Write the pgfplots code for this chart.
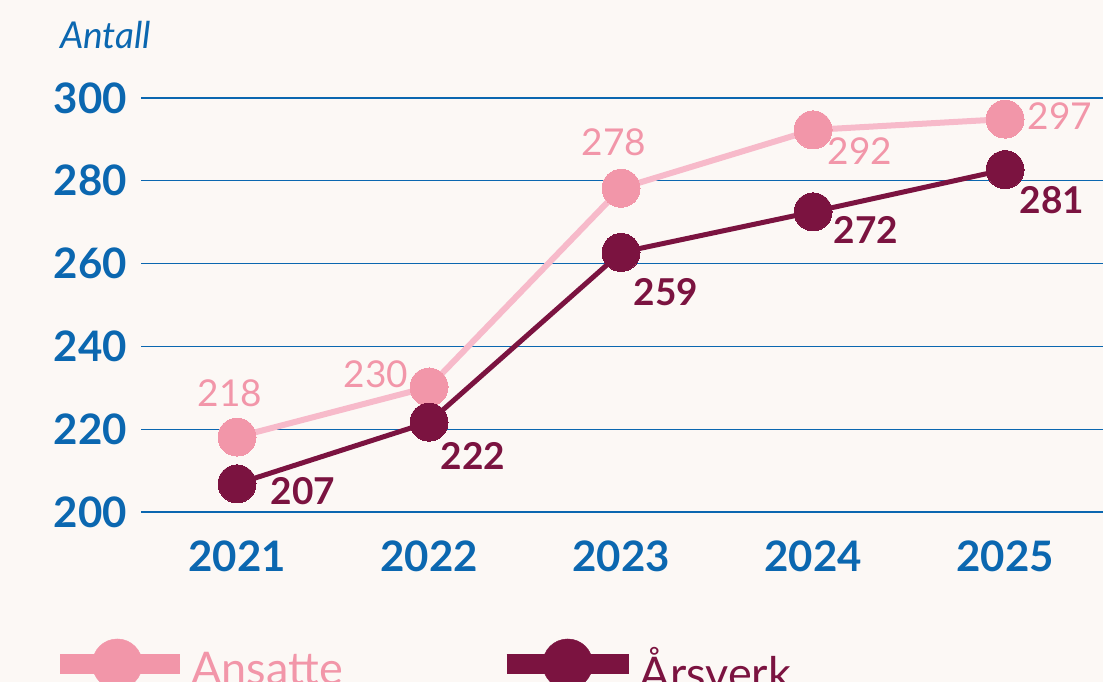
\documentclass[border=0pt]{standalone}
\usepackage{fontspec}
\setmainfont{Lato}
\usepackage{pgfplots}
\usepackage{pgfplotstable}
\pgfplotsset{compat=1.18}
\definecolor{bg}{HTML}{FCF8F5}
\definecolor{axblue}{HTML}{0B67B0}
\definecolor{pinkm}{HTML}{F296A9}
\definecolor{pinkl}{HTML}{F7BACA}
\definecolor{wine}{HTML}{7B1340}

\pgfplotstableread{
x y lab dx dy
0 218.1 218 -7 44
1 230.2 230 -53 13
2 278.2 278 -7 46
3 292.3 292 47 -21.5
4 294.9 297 55 3
}\ansatte

\pgfplotstableread{
x y lab dx dy
0 206.8 207 66 -7
1 221.7 222 44 -34
2 262.7 259 45 -40
3 272.5 272 53 -18
4 282.7 281 47 -31
}\arsverk

\begin{document}
\begin{tikzpicture}[x=1pt,y=1pt]
\useasboundingbox (0,0) rectangle (1103,682);
\fill[bg] (0,0) rectangle (1103,682);
\node[anchor=base west, font=\fontsize{37}{40}\selectfont\itshape, text=axblue, inner sep=0pt] at (60,633) {Antall};
\begin{axis}[
  at={(141pt,170pt)}, anchor=south west,
  scale only axis, width=962pt, height=414pt,
  xmin=-0.5, xmax=4.51, ymin=200, ymax=300,
  axis line style={draw=none}, major tick length=0pt,
  ytick={200,220,240,260,280,300},
  xtick={0,1,2,3,4}, xticklabels={2021,2022,2023,2024,2025},
  ymajorgrids, grid style={axblue, line width=1.3pt},
  clip=false,
  /pgf/number format/assume math mode=true,
  yticklabel style={anchor=east, inner sep=0pt, xshift=-14pt, font=\fontsize{42}{44}\selectfont\bfseries, text=axblue},
  xticklabel style={anchor=north, inner sep=0pt, yshift=-29pt, font=\fontsize{42}{44}\selectfont\bfseries, text=axblue},
  legend columns=2,
  legend style={at={(axis description cs:-0.0945,-0.369)}, anchor=west, draw=none, fill=none,
    inner sep=0pt, nodes={inner sep=0pt, font=\fontsize{45}{47}\selectfont}, /tikz/column sep=1pt},
]
\addplot[forget plot, pinkl, line width=6pt, mark=*, mark size=19pt, mark options={fill=pinkm, draw=pinkm, line width=0pt},
  point meta=explicit symbolic,
  visualization depends on={\thisrow{dx} \as \dx},
  visualization depends on={\thisrow{dy} \as \dy},
  nodes near coords, nodes near coords style={anchor=center, inner sep=0pt, xshift=\dx, yshift=\dy, font=\fontsize{37}{40}\selectfont, text=pinkm}
] table[x=x, y=y, meta=lab]{\ansatte};
\addplot[forget plot, wine, line width=5pt, mark=*, mark size=19pt, mark options={fill=wine, draw=wine, line width=0pt},
  point meta=explicit symbolic,
  visualization depends on={\thisrow{dx} \as \dx},
  visualization depends on={\thisrow{dy} \as \dy},
  nodes near coords, nodes near coords style={anchor=center, inner sep=0pt, xshift=\dx, yshift=\dy, font=\fontsize{37}{40}\selectfont\bfseries, text=wine}
] table[x=x, y=y, meta=lab]{\arsverk};
\addlegendimage{legend image code/.code={\draw[pinkm, line width=20pt] (0pt,5pt) -- (120pt,5pt); \fill[pinkm] (57pt,5pt) circle (25pt);}}
\addlegendentry{\textcolor{pinkm}{Ansatte}\rule{153pt}{0pt}}
\addlegendimage{legend image code/.code={\draw[wine, line width=20pt] (0pt,5pt) -- (122pt,5pt); \fill[wine] (61pt,5pt) circle (25pt);}}
\addlegendentry{\textcolor{wine}{Årsverk}}
\end{axis}
\end{tikzpicture}
\end{document}
